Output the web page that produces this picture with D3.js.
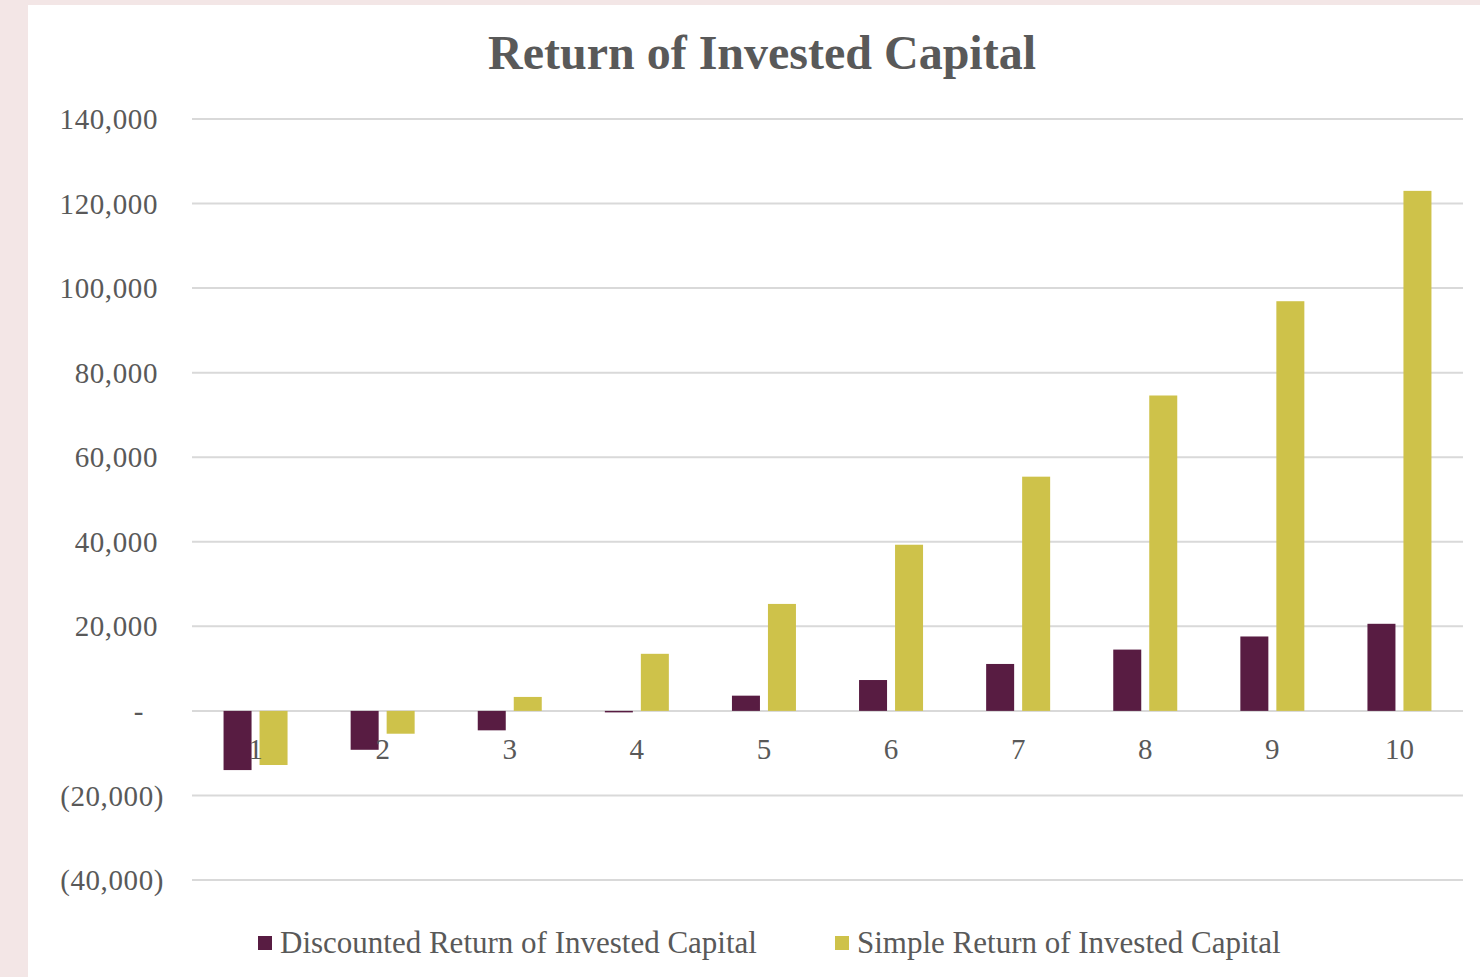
<!DOCTYPE html>
<html><head><meta charset="utf-8">
<script src="https://cdn.jsdelivr.net/npm/d3@7"></script>
<style>
html,body{margin:0;padding:0;background:#f3e6e6;}
svg{display:block;}
</style></head>
<body>
<script>
const categories = ["1","2","3","4","5","6","7","8","9","10"];
const seriesNames = ["Discounted Return of Invested Capital","Simple Return of Invested Capital"];
const discounted = [-14000,-9200,-4600,-300,3600,7300,11100,14500,17600,20600];
const simple = [-12800,-5400,3300,13500,25300,39300,55400,74600,96900,123000];
const yTicks = [-40000,-20000,0,20000,40000,60000,80000,100000,120000,140000];
const colors = ["#581c42","#cec24a"];

(function(){
const W=1480,H=977;
const svg=d3.select("body").append("svg").attr("width",W).attr("height",H);
svg.append("rect").attr("x",0).attr("y",0).attr("width",W).attr("height",H).attr("fill","#f3e6e6");
svg.append("rect").attr("x",28).attr("y",5).attr("width",W-28).attr("height",H-5).attr("fill","#ffffff");

const pLeft=192,pRight=1463,pTop=119,pBottom=880;
const x=d3.scaleBand().domain(categories).range([pLeft,pRight]).paddingInner(0).paddingOuter(0);
const y=d3.scaleLinear().domain([-40000,140000]).range([pBottom,pTop]);

const fontAx="'Liberation Serif','DejaVu Serif',serif";
svg.append("g").selectAll("line").data(yTicks).join("line")
 .attr("x1",pLeft).attr("x2",pRight).attr("y1",d=>y(d)).attr("y2",d=>y(d))
 .attr("stroke","#d9d9d9").attr("stroke-width",2);

const fmt=d=> d===0?"-": (d<0? "("+d3.format(",")(-d)+")" : d3.format(",")(d));
const yAxis=d3.axisLeft(y).tickValues(yTicks).tickFormat(fmt).tickSize(0).tickPadding(0);
const gy=svg.append("g").attr("transform","translate(158,0)").call(yAxis);
gy.select(".domain").remove();
gy.selectAll("text").attr("font-family",fontAx).attr("font-size",29).attr("fill","#595959")
  .attr("letter-spacing","0.6px")
  .attr("dy","0.33em")
  .attr("dx",d=>d<0?6:(d===0?-14:0));

const bw=28;
const g=svg.append("g");
[discounted,simple].forEach((arr,s)=>{
  g.append("g").selectAll("rect").data(arr).join("rect")
   .attr("x",(d,i)=>x(categories[i])+x.bandwidth()/2+(s===0?-32:4))
   .attr("width",bw)
   .attr("y",d=>Math.min(y(d),y(0)))
   .attr("height",d=>Math.max(1.5,Math.abs(y(d)-y(0))))
   .attr("fill",colors[s]);
});

const xAxis=d3.axisBottom(x).tickSize(0).tickPadding(0);
const gx=svg.append("g").attr("transform",`translate(0,${y(0)})`).call(xAxis);
gx.select(".domain").remove();
gx.selectAll("text").attr("font-family",fontAx).attr("font-size",29).attr("fill","#595959")
  .attr("dy","0").attr("y",48);

svg.append("text").attr("x",762).attr("y",69).attr("text-anchor","middle")
 .attr("font-family",fontAx).attr("font-weight","bold").attr("font-size",48).attr("fill","#595959")
 .text("Return of Invested Capital");

const legX=[258,835];
seriesNames.forEach((n,i)=>{
  svg.append("rect").attr("x",legX[i]).attr("y",936).attr("width",14).attr("height",14).attr("fill",colors[i]);
  svg.append("text").attr("x",legX[i]+22).attr("y",953).attr("font-family",fontAx).attr("font-size",31)
    .attr("fill","#595959").text(n);
});
})();
</script>
</body></html>
